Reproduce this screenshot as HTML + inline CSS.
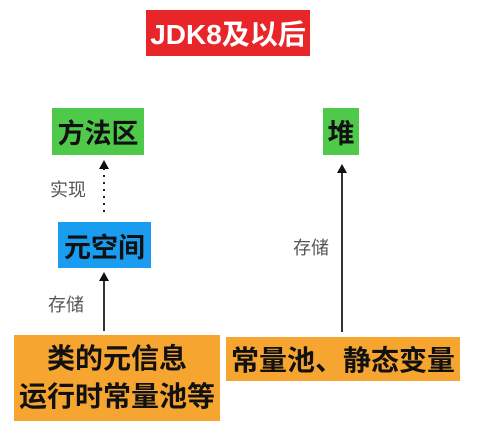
<!DOCTYPE html>
<html><head><meta charset="utf-8"><style>
body{margin:0;width:480px;height:429px;background:#fff;position:relative;overflow:hidden;font-family:"Liberation Sans","Noto Sans CJK SC",sans-serif}
.b{position:absolute;display:flex;align-items:center;justify-content:center;font-weight:bold;color:#111;text-align:center}
.l{position:absolute;color:#555;font-size:18px}
</style></head><body>
<div class="b" style="left:146px;top:10px;width:164px;height:46px;background:#e8262a;color:#fff;font-size:28px">JDK8及以后</div>
<div class="b" style="left:52px;top:108px;width:92px;height:47px;background:#4fc94a;font-size:27px">方法区</div>
<div class="b" style="left:323px;top:108px;width:36px;height:47px;background:#4fc94a;font-size:27px">堆</div>
<div class="b" style="left:58px;top:222px;width:93px;height:46px;background:#1a9cf0;font-size:27px">元空间</div>
<div class="b" style="left:14px;top:335px;width:206px;height:86px;background:#f7a531;font-size:28px;line-height:38px">类的元信息<br>运行时常量池等</div>
<div class="b" style="left:226px;top:337px;width:234px;height:44px;background:#f7a531;font-size:28px">常量池、静态变量</div>
<div class="l" style="left:50px;top:176px">实现</div>
<div class="l" style="left:48px;top:291px">存储</div>
<div class="l" style="left:293px;top:234px">存储</div>
<svg width="480" height="429" style="position:absolute;left:0;top:0">
<line x1="104" y1="168" x2="104" y2="212" stroke="#222" stroke-width="2" stroke-dasharray="2,5"/>
<polygon points="104,160 99,169 109,169" fill="#111"/>
<line x1="104" y1="280" x2="104" y2="331" stroke="#333" stroke-width="2"/>
<polygon points="104,272 99,281 109,281" fill="#111"/>
<line x1="342" y1="172" x2="342" y2="332" stroke="#333" stroke-width="2"/>
<polygon points="342,164 337,173 347,173" fill="#111"/>
</svg>
</body></html>
